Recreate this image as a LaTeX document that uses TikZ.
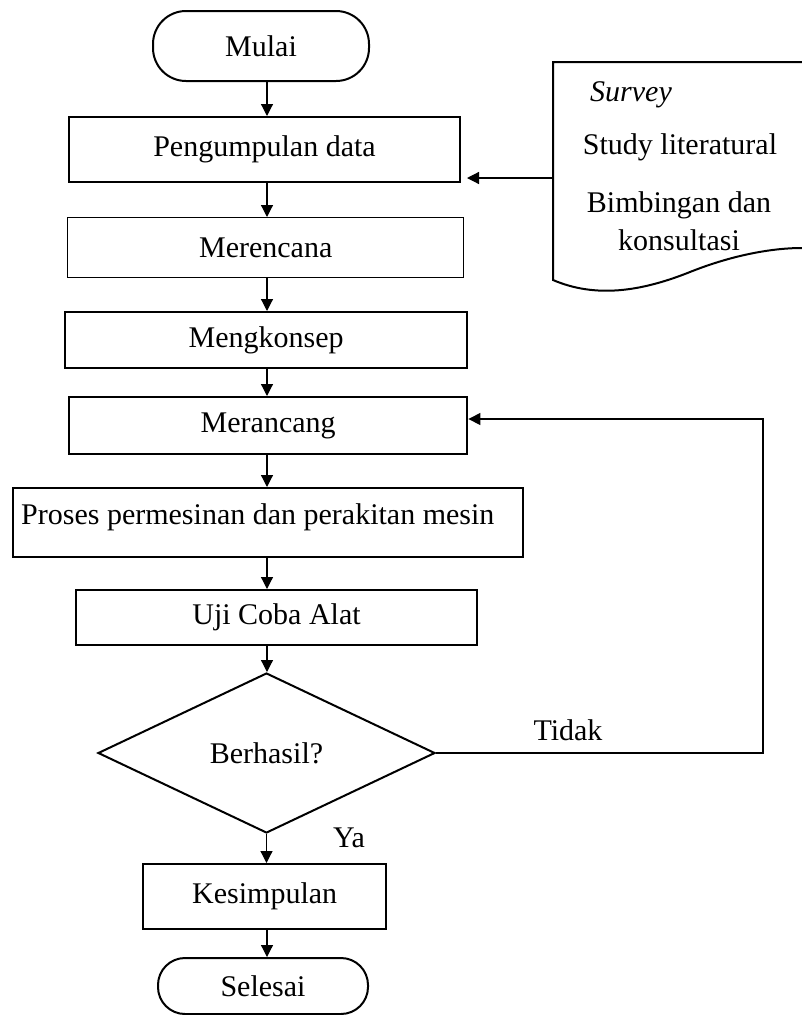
\documentclass[tikz,border=0pt]{standalone}
\usepackage{fontspec}
\setmainfont{Liberation Serif}
\usetikzlibrary{arrows.meta,shapes.geometric,calc}
\begin{document}
\begin{tikzpicture}[x=1pt,y=-1pt,
  font=\fontsize{30}{36}\selectfont,
  box/.style={draw, line width=2pt, inner sep=0pt, anchor=north west},
  term/.style={draw, line width=2pt, inner sep=0pt, anchor=north west},
  arr/.style={line width=1.2pt, -{Triangle[width=12pt,length=12pt]}},
  plain/.style={inner sep=0pt}]
\useasboundingbox (0,0) rectangle (802,1015);

% main column of the flow
\node[term, rounded corners=33pt, minimum width=216pt, minimum height=70pt] (mulai) at (152,10) {Mulai};
\node[box, minimum width=391pt, minimum height=65pt] (peng) at (68,116) {Pengumpulan data};
\node[box, line width=1.4pt, minimum width=396pt, minimum height=60pt] (rencana) at (67,217) {Merencana};
\node[box, line width=2.4pt, minimum width=402pt, minimum height=56pt] (konsep) at (64,311) {Mengkonsep};
\node[box, line width=2.4pt, minimum width=398pt, minimum height=57pt] (rancang) at (68,396) {Merancang};
\node[box, line width=2.4pt, minimum width=510pt, minimum height=69pt] (proses) at (12,487) {};
\node[plain, anchor=west] (prosestxt) at (21,517) {Proses permesinan dan perakitan mesin};
\node[box, minimum width=401pt, minimum height=55pt] (uji) at (75,589) {Uji Coba Alat};
\node[diamond, draw, line width=2pt, inner sep=0pt, minimum width=337pt, minimum height=160pt] (cek) at (266.5,753) {Berhasil?};
\node[box, line width=2.4pt, minimum width=243pt, minimum height=65pt] (simpul) at (142,863) {Kesimpulan};
\node[term, rounded corners=27pt, minimum width=210pt, minimum height=56pt] (selesai) at (157,957) {Selesai};

% document symbol with the data sources
\draw[line width=2pt] (802,62) -- (553,62) -- (553,280)
  .. controls (595,298) and (640,292) .. (690,272)
  .. controls (730,256) and (770,248) .. (802,248);
\node[plain, font=\fontsize{30}{36}\selectfont\itshape] (survey) at (631,95) {Survey};
\node[plain] (studi) at (680,147) {Study literatural};
\node[plain, align=center, font=\fontsize{30}{38}\selectfont] (bimbingan) at (679,221) {Bimbingan dan\\konsultasi};
\coordinate (docin) at (553,178);
\draw[arr] (docin) -- ($(docin -| peng.east)+(6,0)$);

% vertical connectors
\coordinate (axis) at (267,0);
\draw[arr] (mulai.south -| axis) -- (peng.north -| axis);
\draw[arr] (peng.south -| axis) -- (rencana.north -| axis);
\draw[arr] (rencana.south -| axis) -- (konsep.north -| axis);
\draw[arr] (konsep.south -| axis) -- (rancang.north -| axis);
\draw[arr] (rancang.south -| axis) -- (proses.north -| axis);
\draw[arr] (proses.south -| axis) -- (uji.north -| axis);
\draw[arr] (uji.south -| axis) -- (cek.north -| axis);
\draw[arr] (cek.south) -- (simpul.north -| cek.south);
\draw[arr] (simpul.south -| axis) -- (selesai.north -| axis);

% loop back when the test fails
\coordinate (back) at (763,419);
\draw[arr] (cek.east) -| (back) -- (back -| rancang.east);
\node[plain] (tidak) at (568,730) {Tidak};
\node[plain] (ya) at (349,838) {Ya};
\end{tikzpicture}
\end{document}
